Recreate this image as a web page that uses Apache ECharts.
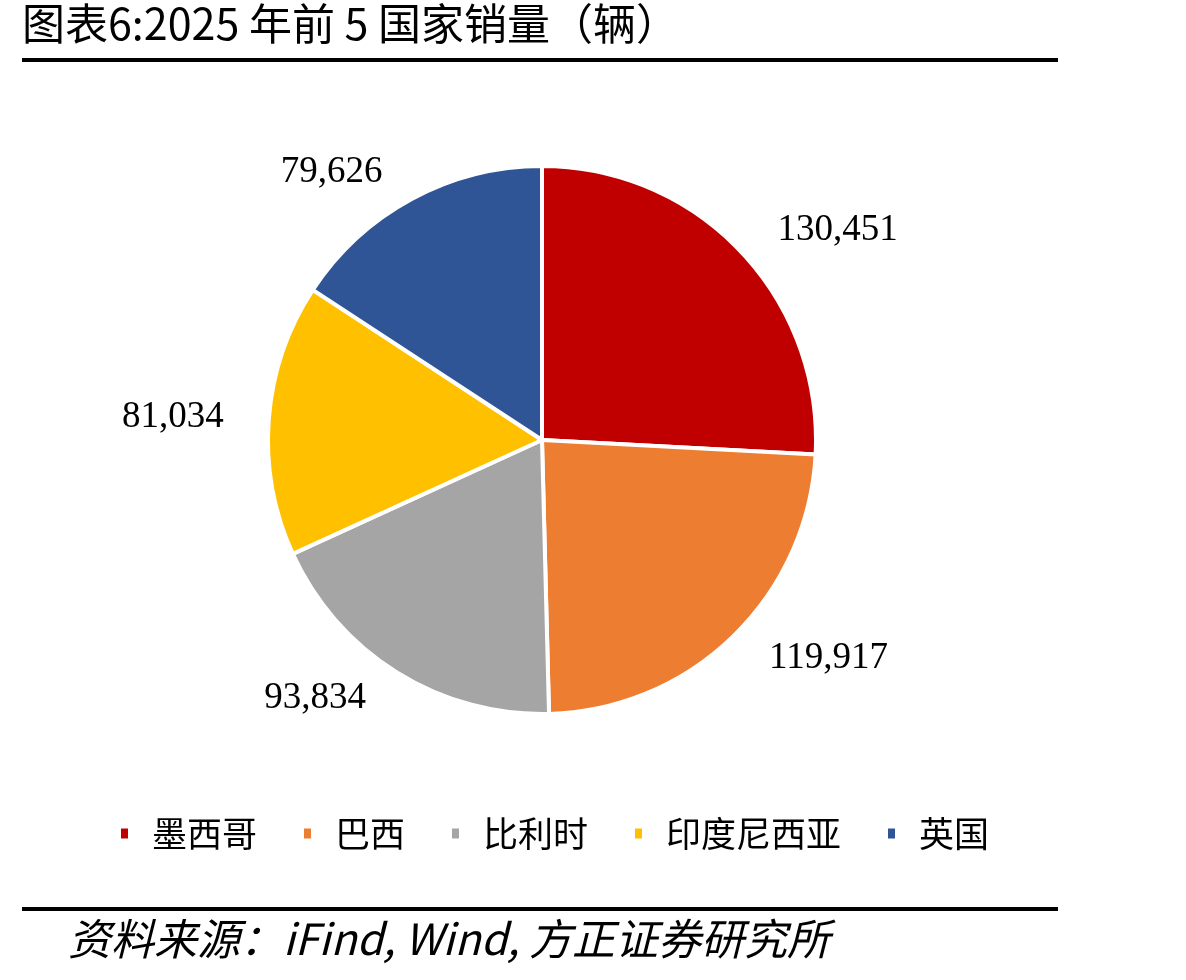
<!DOCTYPE html>
<html>
<head>
<meta charset="utf-8">
<script src="https://cdn.jsdelivr.net/npm/echarts@6/dist/echarts.min.js"></script>
<style>
html,body{margin:0;padding:0;background:#fff;}
#chart{width:1186px;height:980px;}
</style>
</head>
<body>
<div id="chart"></div>
<script>
const categories = ['墨西哥', '巴西', '比利时', '印度尼西亚', '英国'];
const values = [130451, 119917, 93834, 81034, 79626];
const colors = ['#C00000', '#ED7D31', '#A5A5A5', '#FFC000', '#2F5597'];
const titleText = '图表6:2025 年前 5 国家销量（辆）';
const sourceText = '资料来源：iFind, Wind, 方正证券研究所';

const cjk = '"Noto Sans CJK SC", sans-serif';
const chart = echarts.init(document.getElementById('chart'));
chart.setOption({
  backgroundColor: '#fff',
  animation: false,
  color: colors,
  legend: {
    data: categories,
    left: 114,
    top: 811,
    icon: 'rect',
    itemWidth: 9,
    itemHeight: 12,
    itemGap: 45,
    textStyle: { fontFamily: cjk, fontSize: 35, color: '#000', padding: [0, 0, 0, 18] }
  },
  graphic: [
    { type: 'text', left: 22, top: 2, style: { text: titleText, font: '43px "Noto Sans CJK SC"', fill: '#000' } },
    { type: 'rect', shape: { x: 22, y: 58, width: 1036, height: 4 }, style: { fill: '#000' } },
    { type: 'rect', shape: { x: 22, y: 907, width: 1036, height: 4 }, style: { fill: '#000' } },
    { type: 'text', left: 68, top: 917, style: { text: sourceText, font: 'italic 43px "Noto Sans CJK SC"', fill: '#000' } }
  ],
  series: [{
    type: 'pie',
    center: [542, 440],
    radius: [0, 274],
    startAngle: 90,
    clockwise: true,
    avoidLabelOverlap: false,
    itemStyle: { borderColor: '#fff', borderWidth: 4 },
    label: {
      show: true,
      position: 'outside',
      fontFamily: '"Liberation Serif", "Times New Roman", serif',
      fontSize: 37,
      color: '#000',
      formatter: p => p.value.toLocaleString('en-US')
    },
    labelLine: { show: false, length: 30, length2: 10 },
    data: categories.map((c, i) => ({ name: c, value: values[i] }))
  }]
});
</script>
</body>
</html>
